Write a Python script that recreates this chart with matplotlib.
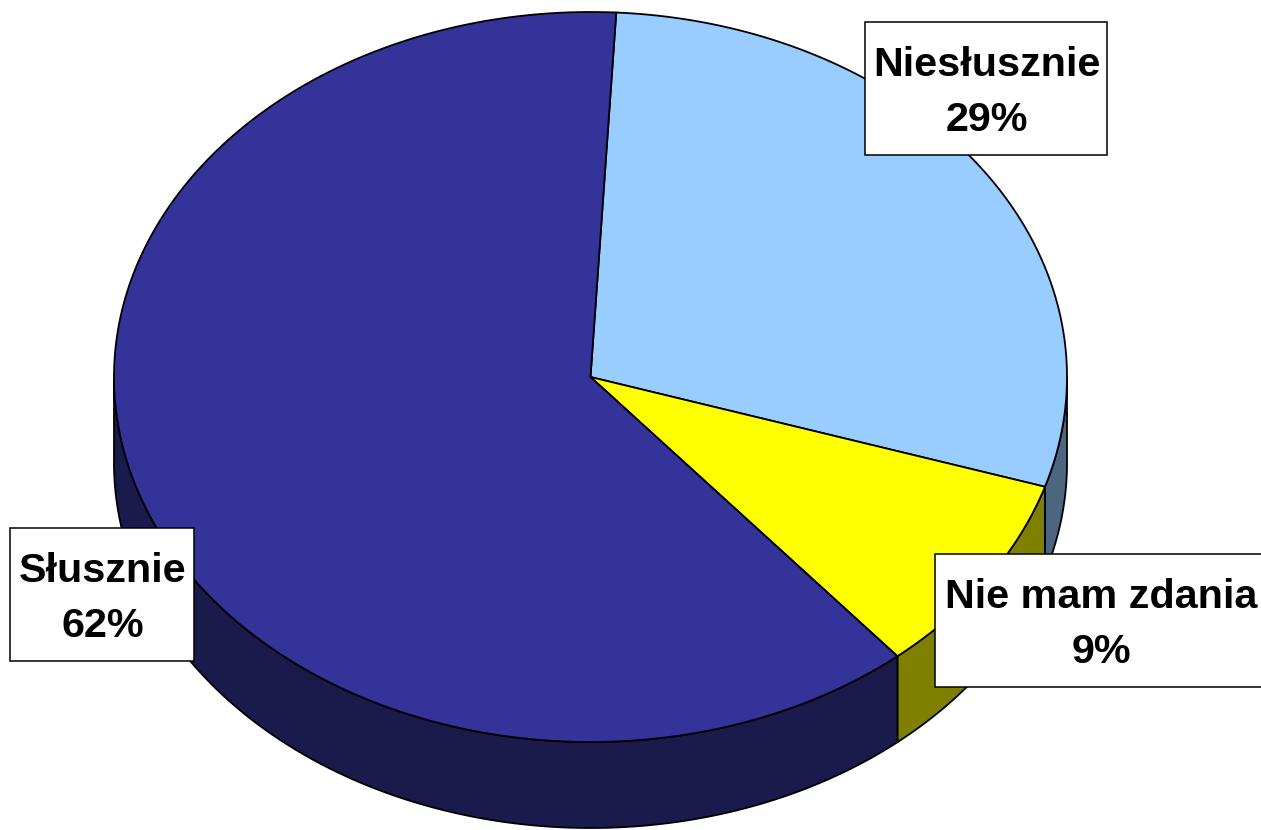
import numpy as np
import matplotlib
matplotlib.use("Agg")
import matplotlib.pyplot as plt

labels = ["Niesłusznie", "Nie mam zdania", "Słusznie"]
values = [29, 9, 62]
top_colors = ["#99CCFF", "#FFFF00", "#333399"]
side_colors = ["#4D6680", "#808000", "#1A1A4D"]
# left, top, width, height of the label boxes, in image pixels
boxes = [(865, 22, 242, 133), (935, 554, 340, 133), (10, 528, 184, 133)]
text_x = [987, 1101, 103]

cx, cy = 590.5, 377
rx, ry = 476.5, 365
depth = 86
start = 86.9

plt.rcParams["font.family"] = ["Liberation Sans", "DejaVu Sans"]

fig = plt.figure(figsize=(12.61, 8.30), dpi=100)
ax = fig.add_axes([0, 0, 1, 1])
ax.set_xlim(0, 1261)
ax.set_ylim(830, 0)
ax.axis("off")


def ell(t):
    t = np.radians(t)
    return cx + rx * np.cos(t), cy - ry * np.sin(t)


# slices run clockwise
sweeps = np.array(values) / sum(values) * 360
a0 = start - np.r_[0, np.cumsum(sweeps)[:-1]]

for i in range(len(values)):
    t = np.linspace(a0[i], a0[i] - sweeps[i], 300)

    # side wall, only the front half of the ellipse shows
    front = t[np.sin(np.radians(t)) <= 0]
    x, y = ell(front)
    ax.fill(
        np.r_[x, x[::-1]],
        np.r_[y, y[::-1] + depth],
        facecolor=side_colors[i],
        edgecolor="black",
        lw=1.3,
        zorder=1,
    )

    x, y = ell(t)
    ax.fill(
        np.r_[cx, x],
        np.r_[cy, y],
        facecolor=top_colors[i],
        edgecolor="black",
        lw=1.3,
        zorder=2,
    )

for lab, v, (bx, by, bw, bh), tx in zip(labels, values, boxes, text_x):
    ax.add_patch(
        plt.Rectangle((bx, by), bw, bh, facecolor="white", edgecolor="black", lw=1.1, zorder=3)
    )
    ax.text(
        tx,
        by + bh / 2 + 4,
        f"{lab}\n{v}%",
        ha="center",
        va="center",
        fontsize=29.8,
        fontweight="bold",
        linespacing=1.56,
        zorder=4,
    )

fig.savefig("out.png", dpi=100, facecolor="white")
